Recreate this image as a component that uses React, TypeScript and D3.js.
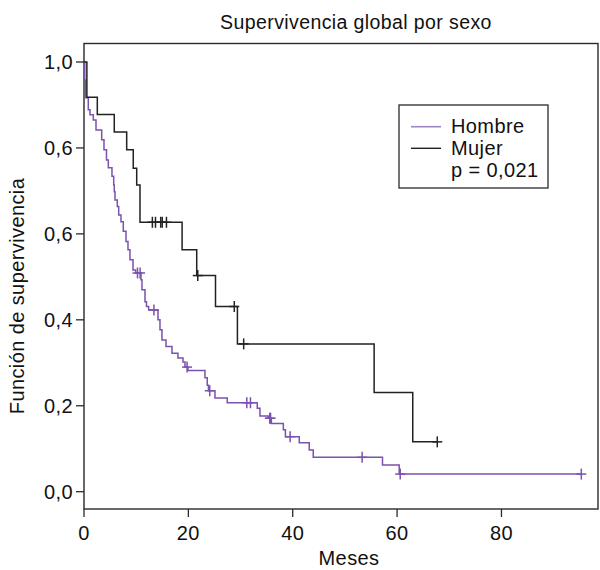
import React from "react";
import * as d3 from "d3";

const title = "Supervivencia global por sexo";
const xLabel = "Meses";
const yLabel = "Función de supervivencia";
const xTicks = [0, 20, 40, 60, 80];
const yTicks = [1.0, 0.8, 0.6, 0.4, 0.2, 0.0];
const yTickLabels = ["1,0", "0,6", "0,6", "0,4", "0,2", "0,0"];
const legendLabels = ["Hombre", "Mujer", "p = 0,021"];

// Hombre: step times (months) and survival after each step
const hombreTime = [0, 0.15, 0.3, 0.82, 1.15, 1.78, 2.3, 3.39, 3.83, 4.31, 4.66, 5.36, 5.69, 5.8, 5.94, 6.38, 6.65, 7.09, 7.53, 8.05, 8.43, 8.81, 9.39, 9.9, 10.92, 11.11, 11.69, 11.97, 12.39, 14.18, 14.56, 14.94, 15.71, 16.86, 18.0, 18.97, 19.35, 19.92, 23.18, 23.62, 23.85, 25.1, 27.45, 33.2, 33.72, 35.3, 35.9, 38.2, 38.6, 41.25, 43.16, 43.93, 57.2, 60.4, 95.3];
const hombreSurv = [1.0, 0.958, 0.917, 0.889, 0.877, 0.865, 0.842, 0.819, 0.796, 0.772, 0.754, 0.734, 0.714, 0.698, 0.679, 0.664, 0.644, 0.628, 0.606, 0.582, 0.563, 0.54, 0.516, 0.509, 0.493, 0.47, 0.442, 0.431, 0.423, 0.4, 0.377, 0.353, 0.338, 0.322, 0.311, 0.302, 0.29, 0.282, 0.265, 0.248, 0.235, 0.218, 0.207, 0.194, 0.176, 0.171, 0.159, 0.144, 0.128, 0.114, 0.097, 0.08, 0.062, 0.041, 0.041];
const hombreCensor = [10.25, 10.75, 13.4, 19.75, 24.1, 31.2, 31.9, 35.6, 35.75, 39.5, 53.3, 60.6, 95.3];

// Mujer
const mujerTime = [0, 0.55, 2.55, 5.8, 8.18, 9.44, 10.1, 10.73, 18.8, 21.6, 25.2, 29.4, 55.6, 63.0, 67.7];
const mujerSurv = [1.0, 0.918, 0.878, 0.837, 0.796, 0.753, 0.714, 0.627, 0.563, 0.503, 0.431, 0.344, 0.231, 0.116, 0.116];
const mujerCensor = [13.1, 13.7, 14.7, 15.0, 15.8, 21.8, 28.8, 30.6, 67.7];

const W = 600;
const H = 570;
const left = 84;
const right = 598;
const top = 43.5;
const bottom = 509;

const purple = "#7b52ae";
const dark = "#222222";
const FONT = "'Liberation Sans', Arial, Helvetica, sans-serif";

function survAt(times: number[], surv: number[], t: number) {
  let s = surv[0];
  for (let i = 0; i < times.length; i++) {
    if (times[i] <= t) s = surv[i];
  }
  return s;
}

export default function App() {
  const x = d3.scaleLinear().domain([0, 98.5]).range([left, right]);
  const y = d3.scaleLinear().domain([0, 1]).range([491.7, 62]);
  const line = d3
    .line<[number, number]>()
    .x((d) => x(d[0]))
    .y((d) => y(d[1]))
    .curve(d3.curveStepAfter);

  const hPts = hombreTime.map((t, i) => [t, hombreSurv[i]] as [number, number]);
  const mPts = mujerTime.map((t, i) => [t, mujerSurv[i]] as [number, number]);

  const cross = (cx: number, cy: number, color: string, key: string) => (
    <g key={key} stroke={color} strokeWidth={1.5}>
      <line x1={cx - 5} x2={cx + 5} y1={cy} y2={cy} />
      <line x1={cx} x2={cx} y1={cy - 5.5} y2={cy + 5.5} />
    </g>
  );

  const textStyle = { fontFamily: FONT, fontSize: 20, letterSpacing: 0.4, fill: "#111" } as any;

  return (
    <svg width={W} height={H} style={{ position: "absolute", left: 0, top: 0, background: "#fff" }}>
      <rect x={0} y={0} width={W} height={H} fill="#fff" />
      <text x={356} y={29} textAnchor="middle" style={{ ...textStyle, fontSize: 19.5 }}>
        {title}
      </text>
      {/* frame */}
      <rect x={left} y={top} width={right - left} height={bottom - top} fill="none" stroke="#2a2a2a" strokeWidth={1.4} />
      {/* y ticks */}
      {yTicks.map((v, i) => (
        <g key={"yt" + i}>
          <line x1={left - 8} x2={left} y1={y(v)} y2={y(v)} stroke="#2a2a2a" strokeWidth={1.3} />
          <text x={73} y={y(v) + 7} textAnchor="end" style={textStyle}>
            {yTickLabels[i]}
          </text>
        </g>
      ))}
      {/* x ticks */}
      {xTicks.map((v) => (
        <g key={"xt" + v}>
          <line x1={x(v)} x2={x(v)} y1={bottom} y2={bottom + 8} stroke="#2a2a2a" strokeWidth={1.3} />
          <text x={x(v)} y={540} textAnchor="middle" style={textStyle}>
            {v}
          </text>
        </g>
      ))}
      <text x={349} y={565} textAnchor="middle" style={textStyle}>
        {xLabel}
      </text>
      <text
        transform={`translate(24,296) rotate(-90)`}
        textAnchor="middle"
        style={textStyle}
      >
        {yLabel}
      </text>
      {/* curves */}
      <path d={line(hPts) || ""} fill="none" stroke={purple} strokeWidth={1.5} />
      <path d={line(mPts) || ""} fill="none" stroke={dark} strokeWidth={1.5} />
      {hombreCensor.map((t, i) => cross(x(t), y(survAt(hombreTime, hombreSurv, t)), purple, "hc" + i))}
      {mujerCensor.map((t, i) => cross(x(t), y(survAt(mujerTime, mujerSurv, t)), dark, "mc" + i))}
      {/* legend */}
      <rect x={399} y={105} width={149} height={83} fill="#fff" stroke="#2a2a2a" strokeWidth={1.3} />
      <line x1={411} x2={441} y1={126.7} y2={126.7} stroke="#9d85c8" strokeWidth={1.6} />
      <line x1={411} x2={441} y1={148.3} y2={148.3} stroke={dark} strokeWidth={1.4} />
      <text x={451} y={133} style={textStyle}>{legendLabels[0]}</text>
      <text x={451} y={154.5} style={textStyle}>{legendLabels[1]}</text>
      <text x={451} y={176.5} style={textStyle}>{legendLabels[2]}</text>
    </svg>
  );
}
